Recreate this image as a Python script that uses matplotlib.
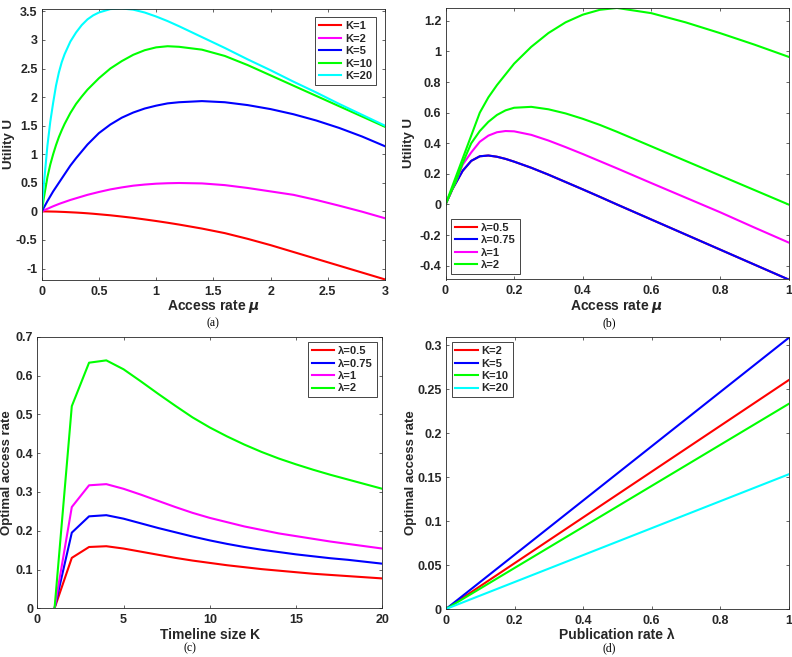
import numpy as np
import matplotlib.pyplot as plt
from matplotlib.ticker import FuncFormatter

plt.rcParams['font.family'] = ['Liberation Sans Narrow', 'Liberation Sans', 'DejaVu Sans']
plt.rcParams['font.weight'] = 'bold'
plt.rcParams['axes.unicode_minus'] = False
plt.rcParams['mathtext.fontset'] = 'custom'
plt.rcParams['mathtext.it'] = 'Liberation Sans Narrow:italic:bold'
plt.rcParams['mathtext.rm'] = 'Liberation Sans Narrow:bold'

# (a) utility vs access rate, lambda fixed, several K
mu_a = [0, 0.02, 0.05, 0.075, 0.1, 0.125, 0.15, 0.175, 0.2, 0.25, 0.3, 0.35, 0.4,
        0.45, 0.5, 0.6, 0.7, 0.8, 0.9, 1.0, 1.1, 1.2, 1.4, 1.6, 1.8, 2.0, 2.2, 2.4,
        2.6, 2.8, 3.0]
u_k1 = [0, 0, -0.001, -0.002, -0.003, -0.004, -0.006, -0.008, -0.01, -0.015, -0.02,
        -0.026, -0.033, -0.041, -0.05, -0.068, -0.09, -0.113, -0.14, -0.168, -0.198,
        -0.23, -0.3, -0.38, -0.48, -0.59, -0.71, -0.83, -0.95, -1.07, -1.19]
u_k2 = [0, 0.018, 0.045, 0.068, 0.09, 0.11, 0.13, 0.148, 0.165, 0.2, 0.23, 0.26,
        0.29, 0.315, 0.34, 0.385, 0.42, 0.45, 0.47, 0.485, 0.493, 0.497, 0.49, 0.46,
        0.41, 0.35, 0.29, 0.2, 0.1, -0.005, -0.12]
u_k5 = [0, 0.07, 0.18, 0.265, 0.35, 0.425, 0.5, 0.575, 0.65, 0.8, 0.93, 1.05, 1.17,
        1.27, 1.37, 1.52, 1.64, 1.73, 1.8, 1.85, 1.89, 1.91, 1.93, 1.91, 1.86, 1.79,
        1.7, 1.59, 1.46, 1.31, 1.14]
u_k10 = [0, 0.25, 0.6, 0.82, 1.0, 1.16, 1.3, 1.42, 1.53, 1.72, 1.88, 2.01, 2.13,
         2.23, 2.33, 2.5, 2.63, 2.74, 2.82, 2.87, 2.89, 2.88, 2.83, 2.72, 2.56, 2.38,
         2.2, 2.02, 1.84, 1.66, 1.48]
u_k20 = [0, 0.5, 1.15, 1.57, 1.9, 2.2, 2.43, 2.61, 2.75, 2.97, 3.13, 3.26, 3.36,
         3.43, 3.48, 3.54, 3.55, 3.53, 3.48, 3.41, 3.33, 3.24, 3.05, 2.86, 2.66, 2.47,
         2.27, 2.08, 1.88, 1.69, 1.5]

# (b) utility vs access rate, several lambda
mu_b = [0, 0.01, 0.02, 0.03, 0.05, 0.075, 0.1, 0.125, 0.15, 0.175, 0.2, 0.25,
        0.3, 0.35, 0.4, 0.45, 0.5, 0.6, 0.7, 0.8, 0.9, 1.0]
u_l05 = [0, 0.05, 0.1, 0.14, 0.22, 0.285, 0.315, 0.32, 0.312, 0.298, 0.28, 0.24,
         0.195, 0.147, 0.099, 0.05, 0.0, -0.098, -0.196, -0.294, -0.392, -0.49]
u_l075 = [0, 0.05, 0.1, 0.14, 0.22, 0.285, 0.315, 0.32, 0.312, 0.298, 0.28, 0.24,
          0.195, 0.147, 0.099, 0.05, 0.0, -0.098, -0.196, -0.294, -0.392, -0.49]
u_l1 = [0, 0.05, 0.1, 0.15, 0.26, 0.34, 0.41, 0.45, 0.472, 0.48, 0.478, 0.455,
        0.418, 0.375, 0.33, 0.283, 0.236, 0.14, 0.045, -0.05, -0.15, -0.248]
u_l2a = [0, 0.05, 0.1, 0.15, 0.27, 0.4, 0.48, 0.54, 0.585, 0.615, 0.632, 0.638,
         0.622, 0.595, 0.56, 0.52, 0.475, 0.38, 0.285, 0.19, 0.095, 0.0]
u_l2b = [0, 0.06, 0.12, 0.18, 0.3, 0.45, 0.6, 0.7, 0.78, 0.85, 0.92, 1.03, 1.12,
         1.19, 1.24, 1.272, 1.284, 1.25, 1.19, 1.12, 1.045, 0.965]

# (c) optimal access rate vs timeline size K
k_c = list(range(1, 21))
opt_l05 = [0, 0.13, 0.158, 0.16, 0.154, 0.146, 0.138, 0.13, 0.123, 0.117, 0.111,
           0.106, 0.101, 0.097, 0.093, 0.089, 0.086, 0.083, 0.08, 0.077]
opt_l075 = [0, 0.195, 0.237, 0.24, 0.231, 0.219, 0.207, 0.196, 0.185, 0.175, 0.166,
            0.158, 0.151, 0.145, 0.139, 0.134, 0.129, 0.125, 0.12, 0.115]
opt_l1 = [0, 0.261, 0.317, 0.32, 0.308, 0.293, 0.277, 0.261, 0.246, 0.233, 0.222,
          0.211, 0.202, 0.193, 0.186, 0.179, 0.172, 0.166, 0.16, 0.154]
opt_l2 = [0, 0.521, 0.633, 0.639, 0.616, 0.585, 0.553, 0.522, 0.492, 0.466, 0.443,
          0.422, 0.403, 0.386, 0.371, 0.357, 0.344, 0.332, 0.32, 0.308]

# (d) optimal access rate vs publication rate
lam_d = [0, 1]
opt_k2 = [0, 0.26]
opt_k5 = [0, 0.308]
opt_k10 = [0, 0.233]
opt_k20 = [0, 0.153]

W, H = 792, 657
fig = plt.figure(figsize=(W / 100, H / 100), dpi=100)
dark = (0.15, 0.15, 0.15)
red, mag, blue, green, cyan = (1, 0, 0), (1, 0, 1), (0, 0, 1), (0, 1, 0), (0, 1, 1)
lw = 1.5


def add_ax(l, t, r, b):
    return fig.add_axes([l / W, 1 - b / H, (r - l) / W, (b - t) / H])


def fmt(v, p):
    return '%g' % round(v, 6)


def style(ax, xticks, yticks, xlim, ylim, xlabel, ylabel, xl_pos, yl_pos):
    ax.set_xlim(*xlim)
    ax.set_ylim(*ylim)
    ax.set_xticks(xticks)
    ax.set_yticks(yticks)
    ax.xaxis.set_major_formatter(FuncFormatter(fmt))
    ax.yaxis.set_major_formatter(FuncFormatter(fmt))
    ax.tick_params(direction='in', top=True, right=True, length=2.5, width=0.5,
                   color=dark, labelcolor=dark, labelsize=9)
    ax.tick_params(axis='x', pad=4)
    ax.tick_params(axis='y', pad=3)
    for lbl in ax.get_xticklabels() + ax.get_yticklabels():
        lbl.set_fontweight('bold')
    for s in ax.spines.values():
        s.set_color(dark)
        s.set_linewidth(0.6)
    ax.set_xlabel(xlabel, fontsize=10, fontweight='bold', color=dark, va='center')
    ax.set_ylabel(ylabel, fontsize=9.5, fontweight='bold', color=dark, va='center')
    ax.xaxis.set_label_coords(0.5, xl_pos)
    ax.yaxis.set_label_coords(yl_pos, 0.5)


def legend(ax, loc, pad):
    leg = ax.legend(loc=loc, prop={'size': 8, 'weight': 'bold'}, frameon=True,
                    fancybox=False, framealpha=1, edgecolor=dark, borderaxespad=pad,
                    labelspacing=0.22, handlelength=2.0, handletextpad=0.35,
                    borderpad=0.35)
    leg.get_frame().set_linewidth(0.6)
    for t in leg.get_texts():
        t.set_color(dark)


# (a)
ax = add_ax(41.7, 8.5, 385, 280)
ax.plot(mu_a, u_k1, color=red, lw=lw, label='K=1')
ax.plot(mu_a, u_k2, color=mag, lw=lw, label='K=2')
ax.plot(mu_a, u_k5, color=blue, lw=lw, label='K=5')
ax.plot(mu_a, u_k10, color=green, lw=lw, label='K=10')
ax.plot(mu_a, u_k20, color=cyan, lw=lw, label='K=20')
style(ax, np.arange(0, 3.01, 0.5), np.arange(-1, 3.51, 0.5), (0, 3), (-1.2, 3.55),
      r'Access rate $\mu$', 'Utility U', -0.099, -0.096)
legend(ax, 'upper right', 0.8)

# (b)
ax = add_ax(445.5, 7.5, 788.5, 279.5)
ax.plot(mu_b, u_l05, color=red, lw=lw, label='λ=0.5')
ax.plot(mu_b, u_l075, color=blue, lw=lw, label='λ=0.75')
ax.plot(mu_b, u_l1, color=mag, lw=lw, label='λ=1')
ax.plot(mu_b, u_l2a, color=green, lw=lw, label='λ=2')
ax.plot(mu_b, u_l2b, color=green, lw=lw)
style(ax, np.arange(0, 1.01, 0.2), np.arange(-0.4, 1.21, 0.2), (0, 1), (-0.49, 1.287),
      r'Access rate $\mu$', 'Utility U', -0.099, -0.106)
legend(ax, 'lower left', 0.5)

# (c)
ax = add_ax(37.3, 336.7, 382.3, 608.3)
ax.plot(k_c, opt_l05, color=red, lw=lw, label='λ=0.5')
ax.plot(k_c, opt_l075, color=blue, lw=lw, label='λ=0.75')
ax.plot(k_c, opt_l1, color=mag, lw=lw, label='λ=1')
ax.plot(k_c, opt_l2, color=green, lw=lw, label='λ=2')
style(ax, [0, 5, 10, 15, 20], np.arange(0, 0.71, 0.1), (0, 20), (0, 0.7),
      'Timeline size K', 'Optimal access rate', -0.098, -0.087)
legend(ax, 'upper right', 0.5)

# (d)
ax = add_ax(446, 336.7, 788.5, 609)
ax.plot(lam_d, opt_k2, color=red, lw=lw, label='K=2')
ax.plot(lam_d, opt_k5, color=blue, lw=lw, label='K=5')
ax.plot(lam_d, opt_k10, color=green, lw=lw, label='K=10')
ax.plot(lam_d, opt_k20, color=cyan, lw=lw, label='K=20')
style(ax, np.arange(0, 1.01, 0.2), np.arange(0, 0.301, 0.05), (0, 1), (0, 0.3095),
      'Publication rate λ', 'Optimal access rate', -0.095, -0.101)
legend(ax, 'upper left', 0.5)

# sub-figure captions
for x, y, s in [(213, 323, '(a)'), (609, 323, '(b)'), (190, 648, '(c)'), (609, 648, '(d)')]:
    fig.text(x / W, 1 - y / H, s, family='Liberation Serif', weight='normal',
             size=8.5, ha='center', va='center', color='black')

fig.savefig('out.png', dpi=100)
